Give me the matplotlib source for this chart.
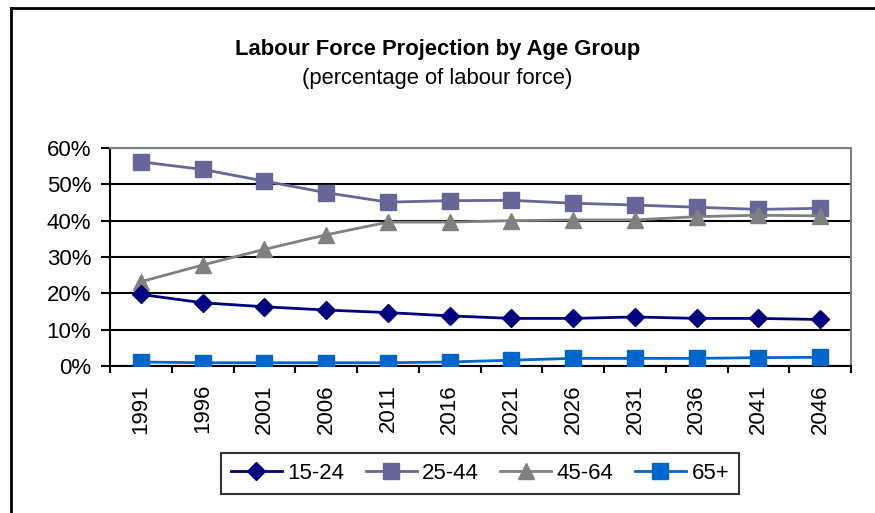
import matplotlib
matplotlib.use("Agg")
import matplotlib.pyplot as plt
from matplotlib.lines import Line2D
from matplotlib.ticker import FuncFormatter, FixedLocator

plt.rcParams['font.family'] = ['Liberation Sans', 'DejaVu Sans']

years = ['1991', '1996', '2001', '2006', '2011', '2016',
         '2021', '2026', '2031', '2036', '2041', '2046']
# share of labour force by age group (%)
age_15_24 = [19.7, 17.4, 16.3, 15.4, 14.7, 13.8, 13.1, 13.1, 13.5, 13.1, 13.1, 12.8]
age_25_44 = [56.2, 54.1, 50.9, 47.7, 45.1, 45.5, 45.6, 44.8, 44.3, 43.7, 43.1, 43.4]
age_45_64 = [23.2, 27.8, 32.1, 36.1, 39.6, 39.6, 40.0, 40.2, 40.2, 41.1, 41.5, 41.3]
age_65p = [1.1, 0.9, 0.9, 0.9, 0.9, 1.1, 1.6, 2.1, 2.1, 2.1, 2.3, 2.4]

fs = 16

fig = plt.figure(figsize=(8.75, 5.13), dpi=100)
ax = fig.add_axes([110/875, 1-366/513, 741/875, 218/513])

x = range(len(years))
ax.plot(x, [v/100 for v in age_15_24], color='#000080', lw=2, marker='D', ms=9, label='15-24', zorder=4)
ax.plot(x, [v/100 for v in age_25_44], color='#666699', lw=2, marker='s', ms=11, label='25-44', zorder=3)
ax.plot(x, [v/100 for v in age_45_64], color='#808080', lw=2, marker='^', ms=12, label='45-64', zorder=3)
ax.plot(x, [v/100 for v in age_65p], color='#0066CC', lw=2, marker='s', ms=11, label='65+', zorder=4)

ax.set_xlim(-0.5, len(years) - 0.5)
ax.set_ylim(0, 0.6)
ax.set_yticks([0, 0.1, 0.2, 0.3, 0.4, 0.5, 0.6])
ax.yaxis.set_major_formatter(FuncFormatter(lambda v, p: f'{v*100:.0f}%'))
ax.yaxis.grid(True, color='black', lw=1.5)
ax.set_axisbelow(True)

ax.set_xticks(list(x))
ax.set_xticklabels(years, rotation=90)
ax.xaxis.set_minor_locator(FixedLocator([i - 0.5 for i in range(len(years) + 1)]))
ax.tick_params(axis='x', which='major', length=0, pad=13, labelsize=fs)
ax.tick_params(axis='x', which='minor', length=5, width=1.5, direction='out')
ax.tick_params(axis='y', length=6.5, width=1.5, pad=7, labelsize=fs)

ax.spines['left'].set_color('black')
ax.spines['bottom'].set_color('black')
ax.spines['left'].set_linewidth(1.5)
ax.spines['bottom'].set_linewidth(1.5)
ax.spines['top'].set_color('#808080')
ax.spines['right'].set_color('#808080')
ax.spines['top'].set_linewidth(1.5)
ax.spines['right'].set_linewidth(1.5)

fig.text(0.5, 1-50/513, 'Labour Force Projection by Age Group', ha='center', va='center',
         fontsize=15.8, fontweight='bold')
fig.text(0.5, 1-79/513, '(percentage of labour force)', ha='center', va='center', fontsize=15.8)

leg = fig.legend(loc='center', bbox_to_anchor=(480/875, 1-473.5/513), ncol=4,
                 fontsize=fs, frameon=True, fancybox=False, edgecolor='black',
                 handlelength=2.3, handletextpad=0.25, columnspacing=0.95,
                 borderpad=0.45, borderaxespad=0)
leg.get_frame().set_linewidth(1.5)

# chart border (left and top edges)
fig.add_artist(Line2D([11/875, 11/875], [0, 1-8/513], color='black', lw=2))
fig.add_artist(Line2D([11/875, 1], [1-8/513, 1-8/513], color='black', lw=2))

fig.savefig('out.png', dpi=100)
